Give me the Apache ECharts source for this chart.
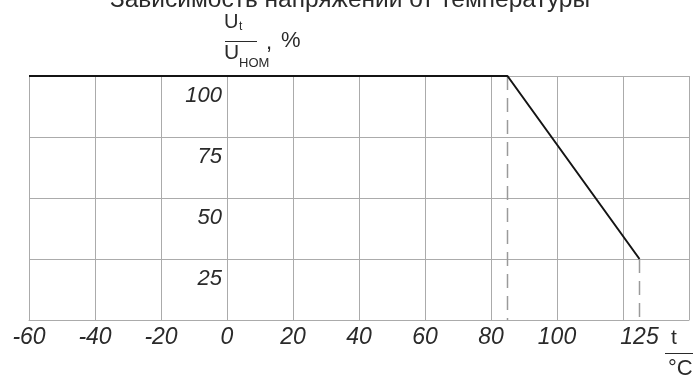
<!DOCTYPE html>
<html><head><meta charset="utf-8">
<script src="https://cdn.jsdelivr.net/npm/echarts@6/dist/echarts.min.js"></script>
<style>html,body{margin:0;padding:0;background:#fff}#c{width:700px;height:381px}</style>
</head><body><div id="c"></div>
<script>
const titleText = 'Зависимость напряжений от температуры';
const temperatures = [-60, 85, 125];
const voltagePercent = [100, 100, 25];
const dropTemps = [85, 125];
const dropTops = [100, 25];
const xTickLabels = [-60, -40, -20, 0, 20, 40, 60, 80, 100, 125];
const yTickLabels = [25, 50, 75, 100];

const FONT = '"Liberation Sans", Arial, Helvetica, sans-serif';
const GRID = '#ababab';
const TXT = '#2a2a2a';

const chart = echarts.init(document.getElementById('c'), null, {renderer: 'canvas'});

const dropSeries = dropTemps.map((t, i) => ({
  type: 'line',
  data: [[t, dropTops[i]], [t, 0]],
  symbol: 'none',
  silent: true,
  clip: false,
  z: 3,
  lineStyle: {color: '#9a9a9a', width: 1.5, type: [14, 8]}
}));

chart.setOption({
  animation: false,
  title: {
    text: titleText,
    left: 'center',
    top: -12,
    padding: 0,
    textStyle: {fontFamily: FONT, fontSize: 24.5, fontWeight: 'normal', color: TXT}
  },
  grid: {left: 29, right: 11, top: 76, bottom: 61, containLabel: false, outerBoundsMode: 'none'},
  xAxis: {
    type: 'value', min: -60, max: 140, interval: 20,
    axisLine: {show: true, onZero: false, lineStyle: {color: GRID, width: 1}},
    axisTick: {show: false},
    splitLine: {show: true, lineStyle: {color: GRID, width: 1}},
    axisLabel: {
      customValues: xTickLabels,
      fontFamily: 'Liberation Sans', fontSize: 23, fontStyle: 'italic', fontWeight: 'normal',
      color: TXT, margin: 6
    }
  },
  yAxis: {
    type: 'value', min: 0, max: 100, interval: 25,
    position: 'left',
    offset: -201,
    axisLine: {show: false, onZero: false},
    axisTick: {show: false},
    splitLine: {show: true, lineStyle: {color: GRID, width: 1}},
    axisLabel: {
      customValues: yTickLabels,
      fontFamily: 'Liberation Sans', fontSize: 22, fontStyle: 'italic', fontWeight: 'normal',
      color: TXT, margin: 8, verticalAlign: 'top', padding: [9, 0, 0, 0]
    }
  },
  series: [
    {
      type: 'line',
      data: temperatures.map((t, i) => [t, voltagePercent[i]]),
      symbol: 'none',
      clip: false,
      z: 5,
      lineStyle: {color: '#141414', width: 2}
    }
  ].concat(dropSeries),
  graphic: [
    {type: 'text', left: 224, top: 12, style: {text: 'U', font: '20px ' + FONT, fill: TXT}},
    {type: 'text', left: 239, top: 21, style: {text: 't', font: '12px ' + FONT, fill: TXT}},
    {type: 'line', shape: {x1: 225, y1: 41.5, x2: 257, y2: 41.5}, style: {stroke: TXT, lineWidth: 1}},
    {type: 'text', left: 224, top: 43, style: {text: 'U', font: '21px ' + FONT, fill: TXT}},
    {type: 'text', left: 239, top: 57, style: {text: 'НОМ', font: '13px ' + FONT, fill: TXT}},
    {type: 'text', left: 266, top: 32, style: {text: ',', font: '22px ' + FONT, fill: TXT}},
    {type: 'text', left: 281, top: 30, style: {text: '%', font: '22px ' + FONT, fill: TXT}},
    {type: 'text', left: 671, top: 328, style: {text: 't', font: '21px ' + FONT, fill: TXT}},
    {type: 'line', shape: {x1: 665, y1: 353.5, x2: 693, y2: 353.5}, style: {stroke: TXT, lineWidth: 1}},
    {type: 'text', left: 668, top: 358, style: {text: '°C', font: '22px ' + FONT, fill: TXT}}
  ]
});
</script>
</body></html>
